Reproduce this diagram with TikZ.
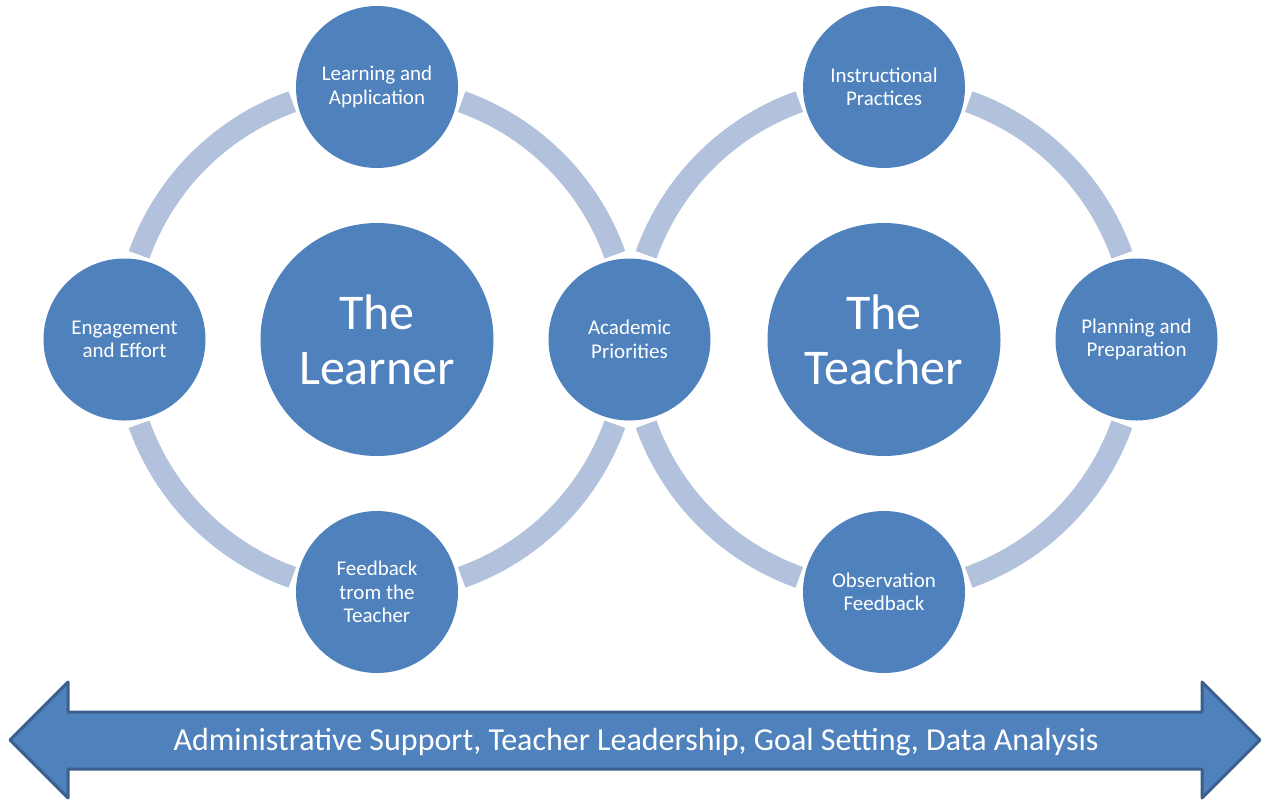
\documentclass[tikz,border=0pt]{standalone}
\usepackage{fontspec}
\setmainfont{Carlito}
\definecolor{cblue}{HTML}{4F81BD}
\definecolor{cring}{HTML}{B3C2DC}
\definecolor{cdark}{HTML}{3A5F8C}
\begin{document}
\begin{tikzpicture}[x=1pt,y=-1pt,
  sat/.style={circle,fill=cblue,minimum size=162pt,inner sep=0pt,text=white,align=center,font=\fontsize{21}{23.5}\selectfont},
  hub/.style={circle,fill=cblue,minimum size=233pt,inner sep=0pt,text=white,align=center,font=\fontsize{50}{55}\selectfont},
  ringarc/.style={draw=cring,line width=22pt}]
\useasboundingbox (0,0) rectangle (1262,801);
% centres
\coordinate (cl) at (377,339.5);
\coordinate (cr) at (884,339.5);
% rings
\foreach \c in {cl,cr}{
  \foreach \t in {0,90,180,270}{
    \draw[ringarc] ([shift={(\t+19.6:252.5)}]\c) arc[start angle=\t+19.6,end angle=\t+70.4,radius=252.5];
  }
}
% hubs
\node[hub] (learner) at (cl) {The\\Learner};
\node[hub] (teacher) at (cr) {The\\Teacher};
% satellites
\node[sat] (learn) at (377,87) {Learning and\\Application};
\node[sat] (engage) at (124.5,339.5) {Engagement\\and Effort};
\node[sat] (feed) at (377,592) {Feedback\\trom the\\Teacher};
\node[sat] (acad) at (629.5,339.5) {Academic\\Priorities};
\node[sat] (instr) at (884,87) {Instructional\\Practices};
\node[sat] (plan) at (1136.5,339.5) {Planning and\\Preparation};
\node[sat] (obs) at (884,592) {Observation\\Feedback};
% arrow
\draw[fill=cblue,draw=cdark,line width=3pt,line join=round]
  (10,740) -- (68,682) -- (68,712) -- (1202,712) -- (1202,682) -- (1260,740)
  -- (1202,798) -- (1202,769) -- (68,769) -- (68,798) -- cycle;
\node[text=white,font=\fontsize{32}{36}\selectfont] (base) at (636,742) {Administrative Support, Teacher Leadership, Goal Setting, Data Analysis};
\end{tikzpicture}
\end{document}
